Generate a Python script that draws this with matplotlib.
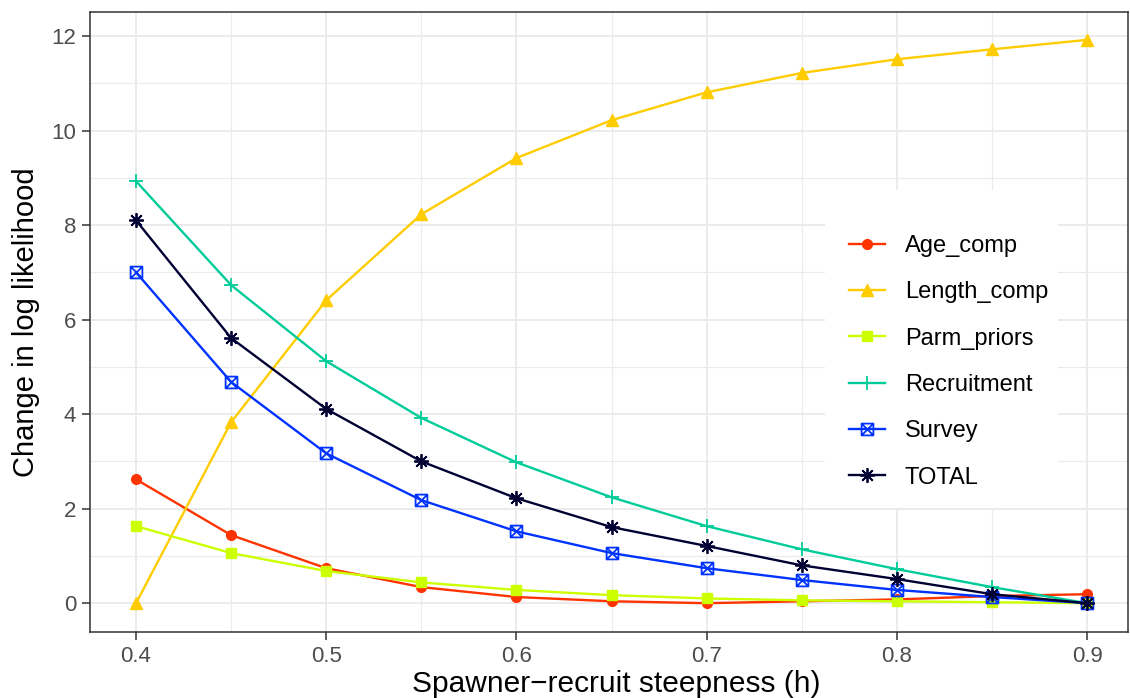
import matplotlib.pyplot as plt
from matplotlib.path import Path
from matplotlib.patches import Rectangle

plt.rcParams['font.family'] = ['Liberation Sans', 'DejaVu Sans']

steep = [0.4, 0.45, 0.5, 0.55, 0.6, 0.65, 0.7, 0.75, 0.8, 0.85, 0.9]

age_comp = [2.62, 1.44, 0.74, 0.34, 0.13, 0.04, 0.0, 0.04, 0.08, 0.15, 0.19]
length_comp = [0.0, 3.83, 6.41, 8.23, 9.42, 10.22, 10.81, 11.22, 11.51, 11.72, 11.92]
parm_priors = [1.63, 1.06, 0.68, 0.44, 0.28, 0.17, 0.10, 0.06, 0.04, 0.02, 0.0]
recruitment = [8.93, 6.73, 5.12, 3.92, 2.98, 2.24, 1.63, 1.14, 0.72, 0.34, 0.0]
survey = [7.0, 4.68, 3.17, 2.18, 1.52, 1.06, 0.74, 0.49, 0.28, 0.13, 0.0]
total = [8.1, 5.61, 4.11, 3.0, 2.22, 1.61, 1.21, 0.8, 0.51, 0.19, 0.0]

# square with an X inside (ggplot shape 7)
sq_x = Path([(-1, -1), (1, -1), (1, 1), (-1, 1), (-1, -1), (-1, -1), (1, 1), (-1, 1), (1, -1)],
            [Path.MOVETO, Path.LINETO, Path.LINETO, Path.LINETO, Path.CLOSEPOLY,
             Path.MOVETO, Path.LINETO, Path.MOVETO, Path.LINETO])

series = [
    ('Age_comp', age_comp, '#FF3300', 'o', 7, {}),
    ('Length_comp', length_comp, '#FFCC00', '^', 8, {}),
    ('Parm_priors', parm_priors, '#CCFF00', 's', 7, {}),
    ('Recruitment', recruitment, '#00CC99', '+', 10.5, {'mew': 1.3}),
    ('Survey', survey, '#0033FF', sq_x, 8.5, {'mfc': 'none', 'mew': 1.3}),
    ('TOTAL', total, '#000033', (8, 2, 0), 10.5, {'mew': 1.3}),
]

fig = plt.figure(figsize=(11.3, 6.98), dpi=100)
ax = fig.add_axes([90 / 1130, 66 / 698, 1038 / 1130, 620 / 698])

for name, vals, col, mk, ms, kw in series:
    ax.plot(steep, vals, color=col, lw=1.7, marker=mk, ms=ms, label=name, **kw)

ax.set_xlim(0.3758, 0.9215)
ax.set_ylim(-0.61, 12.51)
ax.set_xticks([0.4, 0.5, 0.6, 0.7, 0.8, 0.9])
ax.set_xticklabels(['0.4', '0.5', '0.6', '0.7', '0.8', '0.9'])
ax.set_yticks([0, 2, 4, 6, 8, 10, 12])
ax.set_xticks([0.45, 0.55, 0.65, 0.75, 0.85], minor=True)
ax.set_yticks([1, 3, 5, 7, 9, 11], minor=True)
ax.grid(which='major', color='#EBEBEB', lw=1.4)
ax.grid(which='minor', color='#EBEBEB', lw=0.8)
ax.set_axisbelow(True)
ax.tick_params(which='major', labelsize=16, labelcolor='#4D4D4D', color='#333333',
               length=6, width=1.1, pad=4)
ax.tick_params(which='minor', length=0)
for s in ax.spines.values():
    s.set_color('#333333')
    s.set_linewidth(1.1)

ax.set_xlabel('Spawner\u2212recruit steepness (h)', fontsize=21.5, labelpad=2)
ax.xaxis.label.set_x(0.507)
ax.set_ylabel('Change in log likelihood', fontsize=21, labelpad=8)

# white legend background
ax.add_patch(Rectangle((825 / 1130, 1 - 508 / 698), 233 / 1130, 318 / 698,
                       transform=fig.transFigure, facecolor='white', edgecolor='none',
                       zorder=2.5))

leg = ax.legend(loc='upper left', bbox_to_anchor=(849 / 1130, 1 - 235 / 698),
                bbox_transform=fig.transFigure, fontsize=17, frameon=False,
                handlelength=1.52, labelspacing=1.03, borderpad=0, borderaxespad=0,
                handletextpad=0.85)

fig.savefig('out.png', dpi=100)
